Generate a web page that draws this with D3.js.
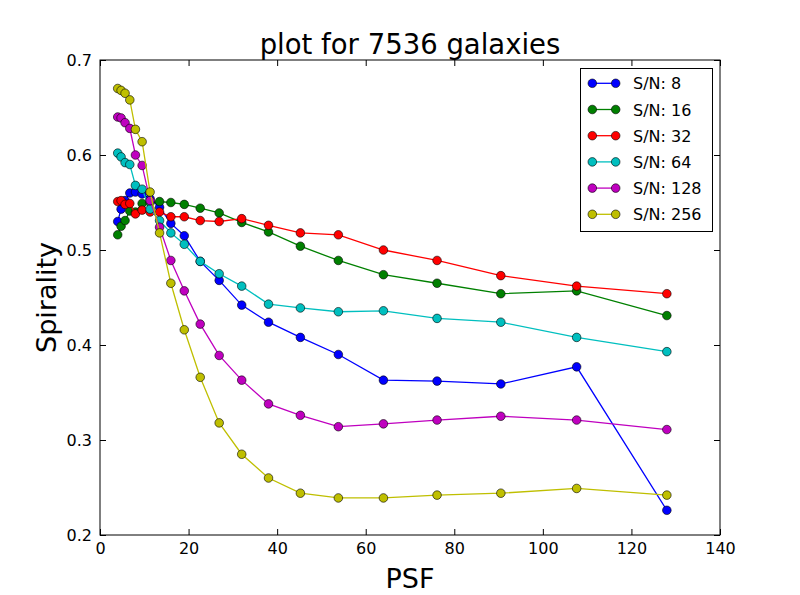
<!DOCTYPE html>
<html>
<head>
<meta charset="utf-8">
<script src="https://cdn.jsdelivr.net/npm/d3@7"></script>
<style>
  body { margin: 0; background: #fff; }
  text { font-family: "DejaVu Sans", sans-serif; }
</style>
</head>
<body>
<div id="chart"></div>
<script>
// valeurs PSF (axe x)
var psf = [4, 4.76, 5.66, 6.73, 8, 9.51, 11.31, 13.45, 16, 19.03, 22.63, 26.91, 32, 38.05, 45.25, 53.82, 64, 76.11, 90.51, 107.63, 128];

// spiralité par S/N
var sn8   = [0.530, 0.543, 0.552, 0.560, 0.561, 0.559, 0.554, 0.545, 0.528, 0.515, 0.488, 0.468, 0.442, 0.424, 0.408, 0.390, 0.363, 0.362, 0.359, 0.377, 0.226];
var sn16  = [0.516, 0.525, 0.531, 0.541, 0.540, 0.549, 0.550, 0.551, 0.550, 0.548, 0.544, 0.539, 0.529, 0.519, 0.504, 0.489, 0.474, 0.465, 0.454, 0.457, 0.431];
var sn32  = [0.551, 0.552, 0.548, 0.549, 0.538, 0.542, 0.540, 0.540, 0.535, 0.535, 0.531, 0.530, 0.533, 0.526, 0.518, 0.516, 0.500, 0.489, 0.473, 0.462, 0.454];
var sn64  = [0.602, 0.598, 0.592, 0.590, 0.568, 0.564, 0.543, 0.531, 0.518, 0.506, 0.488, 0.475, 0.462, 0.443, 0.439, 0.435, 0.436, 0.428, 0.424, 0.408, 0.393];
var sn128 = [0.640, 0.639, 0.634, 0.628, 0.600, 0.589, 0.552, 0.524, 0.489, 0.457, 0.422, 0.389, 0.363, 0.338, 0.326, 0.314, 0.317, 0.321, 0.325, 0.321, 0.311];
var sn256 = [0.670, 0.668, 0.665, 0.658, 0.627, 0.614, 0.561, 0.518, 0.465, 0.416, 0.366, 0.318, 0.285, 0.260, 0.244, 0.239, 0.239, 0.242, 0.244, 0.249, 0.242];

var seriesNames = ["S/N: 8", "S/N: 16", "S/N: 32", "S/N: 64", "S/N: 128", "S/N: 256"];
var seriesValues = [sn8, sn16, sn32, sn64, sn128, sn256];
var colors = ["#0000ff", "#008000", "#ff0000", "#00bfbf", "#bf00bf", "#bfbf00"];

var xTicks = [0, 20, 40, 60, 80, 100, 120, 140];
var yTicks = [0.2, 0.3, 0.4, 0.5, 0.6, 0.7];

var width = 800, height = 595;
var margin = {top: 60, right: 80, bottom: 60, left: 100};

var svg = d3.select("#chart").append("svg")
  .attr("width", width)
  .attr("height", height);

var x = d3.scaleLinear().domain([0, 140]).range([margin.left, width - margin.right]);
var y = d3.scaleLinear().domain([0.2, 0.7]).range([height - margin.bottom, margin.top]);

// axes (ticks vers l'intérieur, comme matplotlib classique)
var tickLen = 6;
svg.append("g")
  .attr("transform", `translate(0,${y(0.2)})`)
  .call(d3.axisBottom(x).tickValues(xTicks).tickSize(-tickLen).tickPadding(8).tickFormat(d3.format("d")))
  .call(g => g.select(".domain").remove());
svg.append("g")
  .attr("transform", `translate(0,${y(0.7)})`)
  .call(d3.axisTop(x).tickValues(xTicks).tickSize(-tickLen).tickFormat(""))
  .call(g => g.select(".domain").remove());
svg.append("g")
  .attr("transform", `translate(${x(0)},0)`)
  .call(d3.axisLeft(y).tickValues(yTicks).tickSize(-tickLen).tickPadding(8).tickFormat(d3.format(".1f")))
  .call(g => g.select(".domain").remove());
svg.append("g")
  .attr("transform", `translate(${x(140)},0)`)
  .call(d3.axisRight(y).tickValues(yTicks).tickSize(-tickLen).tickFormat(""))
  .call(g => g.select(".domain").remove());

svg.selectAll(".tick text")
  .attr("font-size", 16)
  .attr("font-family", "DejaVu Sans, sans-serif")
  .attr("fill", "#000");
svg.selectAll(".tick line").attr("stroke", "#000");

// tracer les séries
var line = d3.line().x((d, i) => x(psf[i])).y(d => y(d));

var plot = svg.append("g");
seriesValues.forEach((vals, k) => {
  plot.append("path")
    .datum(vals)
    .attr("fill", "none")
    .attr("stroke", colors[k])
    .attr("stroke-width", 1.3)
    .attr("d", line);
  plot.selectAll(null)
    .data(vals)
    .join("circle")
      .attr("cx", (d, i) => x(psf[i]))
      .attr("cy", d => y(d))
      .attr("r", 4.3)
      .attr("fill", colors[k])
      .attr("stroke", "#000")
      .attr("stroke-width", 0.6);
});

// cadre
svg.append("rect")
  .attr("x", x(0)).attr("y", y(0.7))
  .attr("width", x(140) - x(0)).attr("height", y(0.2) - y(0.7))
  .attr("fill", "none").attr("stroke", "#000").attr("stroke-width", 1);

// titre et labels
svg.append("text")
  .attr("x", (x(0) + x(140)) / 2).attr("y", 54)
  .attr("text-anchor", "middle").attr("font-size", 27.5)
  .text("plot for 7536 galaxies");
svg.append("text")
  .attr("x", (x(0) + x(140)) / 2).attr("y", 588)
  .attr("text-anchor", "middle").attr("font-size", 27)
  .text("PSF");
svg.append("text")
  .attr("transform", `translate(56,${(y(0.2) + y(0.7)) / 2}) rotate(-90)`)
  .attr("text-anchor", "middle").attr("font-size", 27)
  .text("Spirality");

// légende
var leg = svg.append("g");
leg.append("rect")
  .attr("x", 580.5).attr("y", 68.5).attr("width", 132).attr("height", 163)
  .attr("fill", "#fff").attr("stroke", "#000").attr("stroke-width", 1);
seriesNames.forEach((name, k) => {
  var ly = 83.3 + k * 26.2;
  leg.append("line")
    .attr("x1", 592.3).attr("x2", 615.7).attr("y1", ly).attr("y2", ly)
    .attr("stroke", colors[k]).attr("stroke-width", 1.3);
  [592.3, 615.7].forEach(cx => {
    leg.append("circle")
      .attr("cx", cx).attr("cy", ly).attr("r", 4.3)
      .attr("fill", colors[k]).attr("stroke", "#000").attr("stroke-width", 0.6);
  });
  leg.append("text")
    .attr("x", 633).attr("y", ly + 6)
    .attr("font-size", 16)
    .text(name);
});
</script>
</body>
</html>
